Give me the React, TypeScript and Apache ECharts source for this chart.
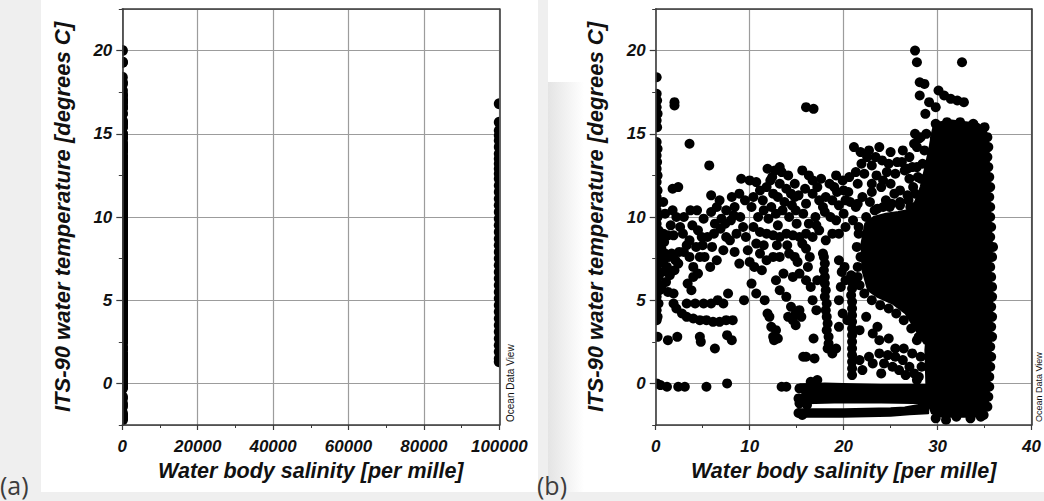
import React, { useEffect, useRef } from "react";
import * as echarts from "echarts";

// ---------- DATA (salinity [per mille], temperature [deg C]) ----------
const yTickValues = [0, 5, 10, 15, 20];
const yMinorTickValues = [-2.5, 2.5, 7.5, 12.5, 17.5, 22.5];

const freshColumn: [number, number][] = [
  [0.1, 18.4], [0.1, 17.4], [0.15, 17.0], [0.1, 16.6], [0.2, 16.2], [0.1, 15.8], [0.15, 15.4],
  [0.1, 14.5], [0.2, 14.1], [0.1, 13.7], [0.15, 13.3], [0.1, 12.9], [0.2, 12.5], [0.1, 12.1],
  [0.2, 11.6], [0.1, 11.2], [0.15, 10.8], [0.1, 10.4], [0.2, 10.0], [0.1, 9.6], [0.3, 9.2],
  [0.2, 8.8], [0.1, 8.4], [0.4, 8.0], [0.2, 7.6], [0.3, 7.2], [0.1, 6.8], [0.3, 6.4], [0.2, 6.0],
  [0.4, 5.6], [0.1, 5.2], [0.3, 4.8], [0.1, 4.4], [0.2, 4.0], [0.1, 3.8], [0.2, 2.8], [0.1, 0.0],
];

const lowSalinityCloud: [number, number][] = [
  [1.8, 11.7], [2.4, 11.8], [1.8, 10.4], [3.7, 10.4], [5.9, 11.3], [6.8, 11.0], [8.1, 11.2], [8.9, 11.4],
  [9.1, 12.3], [5.1, 9.9], [5.9, 10.3], [6.5, 10.6], [7.5, 10.4], [8.4, 10.6], [2.6, 9.4], [2.9, 9.0],
  [3.6, 8.6], [4.3, 8.2], [1.9, 8.9], [0.8, 9.0], [1.3, 8.9], [0.6, 8.1], [1.0, 7.8], [1.4, 7.6],
  [0.8, 7.3], [1.2, 7.0], [1.7, 7.8], [2.1, 7.4], [2.5, 7.9], [0.7, 6.7], [1.5, 6.5], [2.0, 6.8],
  [2.4, 7.2], [1.1, 6.1], [0.6, 5.8], [1.3, 5.5], [3.6, 7.6], [4.7, 7.6], [5.8, 7.0], [6.5, 7.4],
  [7.2, 8.0], [7.9, 8.6], [8.6, 9.0], [9.3, 9.4], [9.6, 8.8], [3.0, 7.9], [4.0, 7.0], [5.0, 8.3],
  [5.5, 8.8], [6.2, 9.0], [6.9, 9.3], [7.4, 9.6], [8.0, 9.8], [4.5, 9.2], [3.3, 8.3], [7.5, 8.8],
  [6.0, 8.2], [5.2, 7.6], [8.4, 7.9], [8.9, 7.2], [1.9, 5.4], [3.8, 5.6], [4.5, 6.6], [7.7, 5.4],
  [9.4, 5.0], [3.4, 6.0], [4.0, 6.4], [1.9, 4.8], [2.2, 4.5], [2.8, 4.2], [3.3, 4.0], [4.0, 3.9],
  [4.7, 3.8], [5.4, 3.8], [6.1, 3.7], [6.8, 3.7], [7.5, 3.8], [8.2, 3.8], [3.3, 4.8], [4.2, 4.8],
  [5.1, 4.8], [5.9, 4.8], [6.6, 5.0], [7.2, 4.8], [1.3, 2.6], [2.3, 2.8], [4.7, 2.8], [4.8, 2.5],
  [6.3, 2.1], [7.6, 2.9], [8.1, 2.6], [1.2, -0.2], [2.4, -0.2], [3.1, -0.2], [5.4, -0.2], [7.6, 0.0],
  [0.5, -0.1], [9.0, 10.0], [8.3, 10.1], [7.0, 9.9], [6.3, 9.6], [4.9, 8.8], [3.9, 9.5], [2.2, 10.0],
  [1.0, 10.2], [0.8, 10.9], [0.9, 8.5], [0.5, 7.5], [1.6, 9.5], [3.0, 10.0], [4.4, 10.4],
];

const midSalinityCloud: [number, number][] = [
  [10.0, 12.2], [10.7, 12.1], [11.9, 12.9], [12.7, 12.8], [13.4, 12.7], [14.1, 12.5], [15.6, 12.8],
  [11.1, 11.6], [11.8, 11.8], [12.5, 11.4], [13.2, 12.0], [13.9, 11.7], [14.8, 12.0], [14.4, 11.4],
  [10.4, 11.2], [11.4, 11.0], [12.3, 10.6], [12.8, 10.2], [13.5, 10.4], [14.2, 10.0], [14.9, 10.4],
  [15.7, 10.2], [16.0, 10.8], [16.7, 12.2], [17.6, 12.3], [18.5, 12.0], [19.2, 12.5], [19.9, 12.2],
  [20.6, 12.4], [21.3, 12.7], [21.1, 14.2], [21.8, 13.9], [22.5, 13.6], [23.4, 13.6], [24.1, 13.4],
  [24.8, 13.2], [25.7, 13.3], [26.8, 12.9], [27.5, 14.4], [28.0, 14.7], [16.7, 11.4], [17.4, 11.0],
  [18.1, 11.2], [18.8, 11.0], [19.5, 10.7], [20.2, 11.0], [21.3, 10.6], [10.4, 9.4], [11.1, 9.1],
  [11.8, 9.0], [12.5, 8.9], [13.2, 8.8], [13.9, 9.0], [14.6, 8.9], [15.3, 8.8], [16.0, 9.0],
  [16.7, 8.8], [17.4, 9.2], [18.1, 8.6], [18.8, 9.0], [10.7, 8.4], [9.8, 8.0], [11.1, 7.8],
  [11.8, 7.4], [12.5, 7.6], [13.2, 7.6], [14.2, 7.8], [15.1, 7.3], [16.0, 8.1], [10.2, 6.0],
  [10.7, 5.4], [11.6, 5.0], [11.9, 4.2], [12.3, 3.4], [12.5, 2.8], [12.6, 2.6], [13.2, 5.6],
  [13.9, 5.2], [14.4, 4.6], [14.9, 4.2], [14.1, 4.0], [14.9, 3.5], [15.5, 4.0], [15.3, 6.6],
  [16.0, 6.2], [16.5, 5.8], [16.2, 7.0], [16.7, 5.0], [17.1, 4.4], [16.8, 2.7], [15.7, 1.6],
  [16.0, 1.6], [16.9, 1.5], [18.8, 1.8], [19.5, 7.4], [20.1, 7.0], [20.2, 6.2], [19.7, 5.8],
  [19.5, 5.0], [19.9, 4.2], [20.4, 3.8], [19.5, 3.4], [19.2, 9.8], [19.5, 9.0], [20.2, 9.4],
  [21.0, 9.8], [12.0, 9.9], [13.0, 9.5], [15.0, 9.6], [17.0, 10.0], [18.0, 10.3], [20.0, 10.2],
  [17.8, 7.8], [13.6, 6.6], [12.8, 6.2], [14.6, 6.4], [11.3, 6.8], [17.2, 6.2], [19.8, 6.7],
  [13.4, -0.2], [13.9, -0.2], [16.5, 0.1], [17.2, 0.2], [9.5, 11.0], [10.2, 10.6], [10.9, 10.0],
  [11.5, 10.4], [12.2, 12.2], [13.0, 11.2], [13.7, 10.9], [14.5, 10.7], [15.2, 11.3], [15.9, 11.7],
  [16.3, 9.6], [17.1, 9.5], [17.8, 10.6], [18.6, 10.0], [19.3, 11.5], [20.0, 11.6], [20.7, 10.9],
  [10.0, 7.3], [10.5, 7.0], [11.5, 8.3], [12.9, 8.3], [14.0, 8.3], [14.8, 7.6], [15.6, 8.4],
  [16.4, 7.6], [13.2, 13.0], [12.4, 12.4], [14.8, 11.2], [16.3, 12.5], [17.2, 11.8], [19.0, 11.8],
  [20.5, 11.5], [21.9, 13.2], [23.0, 13.1], [24.6, 12.7], [22.7, 14.0], [23.8, 14.2], [12.1, 4.0],
  [12.8, 3.2], [13.0, 2.7], [14.6, 3.8], [15.3, 4.4],
];

const streak18: [number, number][] = [
  [17.9, 7.6], [18.0, 7.2], [17.9, 6.8], [18.0, 6.4], [18.0, 6.0], [18.1, 5.6], [18.0, 5.2], [18.2, 4.8],
  [18.1, 4.4], [18.2, 4.0], [18.3, 3.6], [18.2, 3.2], [18.4, 2.8], [18.4, 2.4], [18.3, 2.1],
];

const streak21: [number, number][] = [
  [20.8, 6.5], [20.9, 6.1], [20.9, 5.7], [20.8, 5.3], [20.9, 4.9], [20.9, 4.5], [20.9, 4.1], [20.9, 3.7],
  [20.9, 3.3], [20.9, 2.9], [20.9, 2.5], [20.9, 2.1], [20.9, 1.7], [20.9, 1.3], [20.9, 0.9], [20.9, 0.5],
];

const shelfCluster: [number, number][] = [
  [22.7, 1.6], [23.8, 1.8], [24.7, 1.7], [25.5, 1.6], [26.3, 1.4], [27.0, 1.0], [27.5, 0.6], [25.2, 1.0],
  [24.3, 1.2], [25.9, 0.8], [23.1, 1.2], [23.8, 2.6], [24.8, 2.7], [25.5, 2.1], [26.4, 2.1], [27.3, 1.8],
  [28.2, 1.6], [28.4, 3.0], [27.8, 2.6], [21.7, 3.2], [22.4, 4.0], [23.1, 3.0], [23.6, 3.4], [22.0, 0.8],
  [19.2, 2.1], [21.7, 1.4], [24.0, 0.6], [26.6, 0.5], [28.0, 0.4], [28.3, 1.0], [27.8, 0.2],
  [28.6, 3.6], [28.2, 4.2], [27.5, 4.6],
];

const upperCloud: [number, number][] = [
  [22.0, 11.2], [23.0, 11.5], [24.0, 11.8], [25.0, 12.0], [26.0, 11.6], [27.0, 12.3], [23.5, 12.5],
  [25.5, 12.6], [26.3, 14.0], [27.0, 13.6], [27.8, 13.0], [21.5, 10.8], [22.8, 10.9], [24.5, 11.0],
  [26.0, 10.9], [26.8, 11.3], [27.4, 11.8], [27.9, 12.4], [28.4, 13.2], [28.6, 14.0], [27.8, 14.2],
  [26.5, 12.8], [25.4, 11.4], [24.2, 12.2], [23.0, 12.0], [22.2, 12.6], [21.5, 12.0], [28.8, 15.0],
  [28.9, 12.0], [27.1, 10.6], [24.9, 10.6], [23.6, 10.5], [21.6, 9.0], [21.8, 7.6], [21.5, 6.4],
  [28.2, 14.8], [27.6, 15.0], [28.5, 11.0], [28.0, 10.6], [26.2, 13.3], [25.0, 13.9], [27.3, 13.0],
];

const extensionEdgeDots: [number, number][] = [
  [22.4, 10.0], [23.3, 10.4], [24.2, 10.6], [25.1, 10.8], [26.0, 10.7], [26.9, 11.0], [27.6, 11.4],
  [28.2, 12.3], [22.2, 5.4], [23.0, 5.0], [23.9, 4.7], [24.8, 4.5], [25.6, 4.2], [26.4, 3.8],
  [27.2, 3.3], [28.0, 2.8], [21.6, 9.4], [21.4, 8.2], [21.5, 7.0], [21.7, 5.9],
];

const warmOutliers: [number, number][] = [
  [27.6, 20.0], [27.8, 19.3], [32.6, 19.3], [28.1, 18.1], [28.6, 18.0], [28.1, 17.3], [29.1, 16.9],
  [28.7, 16.2], [30.1, 17.6], [30.7, 17.3], [31.4, 17.1], [32.1, 17.0], [32.8, 16.9], [29.8, 16.6],
  [16.0, 16.6], [16.8, 16.5], [2.0, 16.9], [2.0, 16.7], [3.6, 14.4], [5.7, 13.1],
];

const coreEdgeDots: [number, number][] = [
  [35.0, 15.4], [35.3, 14.8], [35.4, 14.2], [35.3, 13.6], [35.4, 13.0], [35.5, 12.4], [35.6, 11.8],
  [35.5, 11.2], [35.6, 10.6], [35.6, 10.0], [35.7, 9.4], [35.6, 8.8], [35.9, 8.2], [35.8, 7.6],
  [35.6, 7.0], [35.7, 6.4], [35.8, 5.8], [35.8, 5.2], [35.7, 4.6], [35.8, 4.0], [35.7, 3.4],
  [35.8, 2.8], [35.6, 2.2], [35.7, 1.6], [35.6, 1.0], [35.5, 0.4], [35.5, -0.2], [35.4, -0.8],
  [35.3, -1.4], [34.9, -1.9], [29.8, -2.1], [30.9, -2.2], [32.0, -2.0], [33.5, -2.1], [34.6, -2.0],
  [29.8, 15.6], [31.0, 15.7], [32.4, 15.7], [33.8, 15.6],
];

const bandEndDots: [number, number][] = [
  [15.3, -0.3], [15.2, -0.9], [15.3, -1.2], [16.1, -1.3], [15.2, -1.78], [15.6, -1.9],
];

const densePolygons: [number, number][][] = [
  [[29.3, 14.8], [29.6, 15.5], [30.3, 15.7], [31.5, 15.8], [33.0, 15.7], [34.3, 15.6], [35.1, 15.3],
   [35.4, 14.5], [35.5, 12.0], [35.6, 10.0], [35.8, 8.2], [35.6, 7.0], [35.8, 5.0], [35.7, 3.0],
   [35.6, 1.0], [35.4, -1.0], [35.0, -1.8], [34.0, -2.0], [32.0, -2.0], [30.5, -2.0], [29.4, -1.8],
   [29.0, -1.2], [28.8, 0.0], [28.7, 2.0], [29.0, 4.0], [29.0, 10.0], [29.1, 13.0]],
  [[22.3, 9.6], [23.2, 10.0], [24.5, 10.2], [25.8, 10.3], [26.8, 10.4], [27.6, 10.9], [28.2, 11.8],
   [28.7, 13.0], [29.3, 14.6], [29.5, 14.0], [29.5, 3.0], [28.6, 2.4], [27.7, 3.2], [26.6, 4.2],
   [25.2, 4.8], [23.6, 5.2], [22.6, 5.6], [22.0, 6.8], [21.9, 8.4]],
  [[15.4, -0.05], [18.0, 0.0], [21.0, -0.05], [24.0, -0.1], [27.0, -0.1], [29.0, -0.1], [29.0, -0.6],
   [24.0, -0.62], [19.0, -0.6], [15.6, -0.62]],
  [[15.4, -0.7], [19.0, -0.68], [24.0, -0.68], [29.0, -0.68], [29.0, -1.2], [24.0, -1.15], [19.0, -1.15],
   [16.0, -1.2], [15.4, -1.2]],
  [[15.2, -1.55], [20.0, -1.55], [25.0, -1.5], [26.5, -1.45], [28.0, -1.3], [29.0, -1.25], [29.0, -1.8],
   [27.0, -1.85], [25.0, -1.95], [20.0, -2.0], [15.2, -2.0]],
];

// salinity recorded as 99999 (missing-value flag) in panel (a)
const flaggedSalinity = 99999;
const flaggedTemps = [
  16.8, 15.7, 15.2, 14.9, 14.6, 14.2, 13.8, 13.5, 13.2, 12.9, 12.6, 12.3, 11.9, 11.5, 11.1, 10.7,
  10.3, 9.9, 9.5, 9.1, 8.7, 8.3, 7.9, 7.5, 7.1, 6.7, 6.3, 5.9, 5.5, 5.1, 4.7, 4.3, 3.9, 3.5, 3.1,
  2.7, 2.3, 1.9, 1.5, 1.3,
];

const panelLabels = ["(a)", "(b)"];
const xAxisName = "Water body salinity [per mille]";
const yAxisName = "ITS-90 water temperature [degrees C]";
const creditText = "Ocean Data View";

// ---------- CHART ----------
const FONT = "'Liberation Sans', Arial, sans-serif";
const boldItalic = { fontFamily: FONT, fontWeight: "bold" as const, fontStyle: "italic" as const, color: "#111" };
const AXIS_COLOR = "#3a3a3a";
const GRID_COLOR = "#9c9c9c";

export default function App() {
  const ref = useRef<HTMLDivElement>(null);

  useEffect(() => {
    if (!ref.current) return;
    const chart = echarts.init(ref.current, undefined, { renderer: "svg" });

    const bPoints = [
      ...freshColumn, ...lowSalinityCloud, ...midSalinityCloud, ...streak18, ...streak21,
      ...shelfCluster, ...upperCloud, ...extensionEdgeDots, ...warmOutliers, ...coreEdgeDots, ...bandEndDots,
    ];
    const aPoints = [...bPoints, ...flaggedTemps.map((t) => [flaggedSalinity, t] as [number, number])];

    const grids = [
      { left: 122.3, top: 9, width: 377, height: 416 },
      { left: 655.7, top: 9, width: 377.3, height: 416 },
    ];
    const xRanges = [
      { min: 0, max: 100000, interval: 20000 },
      { min: 0, max: 40, interval: 10 },
    ];

    const xAxes: any[] = [];
    const yAxes: any[] = [];
    grids.forEach((_, gi) => {
      const xr = xRanges[gi];
      xAxes.push({
        gridIndex: gi, type: "value", position: "bottom", ...xr, z: 1,
        axisLine: { show: false, onZero: false }, axisTick: { show: false }, axisLabel: { show: false },
        splitLine: { show: true, lineStyle: { color: GRID_COLOR, width: 1.2 } },
      });
      xAxes.push({
        gridIndex: gi, type: "value", position: "bottom", ...xr, z: 10,
        name: xAxisName, nameLocation: "middle", nameGap: 34,
        nameTextStyle: { ...boldItalic, fontSize: 21.5 },
        axisLine: { show: true, onZero: false, lineStyle: { color: AXIS_COLOR, width: 1.6 } },
        axisTick: { show: true, length: 5, lineStyle: { color: AXIS_COLOR, width: 1.2 } },
        minorTick: { show: true, splitNumber: 2, length: 3, lineStyle: { color: AXIS_COLOR, width: 1 } },
        axisLabel: { show: true, margin: 13, ...boldItalic, fontSize: 17, showMinLabel: true, showMaxLabel: true,
          formatter: (v: number) => String(v) },
        splitLine: { show: false },
      });
      xAxes.push({
        gridIndex: gi, type: "value", position: "top", ...xr, z: 10,
        axisLine: { show: true, onZero: false, lineStyle: { color: AXIS_COLOR, width: 1.6 } },
        axisTick: { show: false }, axisLabel: { show: false }, splitLine: { show: false },
      });

      const yr = { min: -2.5, max: 22.5 };
      yAxes.push({
        gridIndex: gi, type: "value", position: "left", ...yr, splitNumber: 5, z: 1,
        axisLine: { show: false, onZero: false }, axisTick: { show: false }, axisLabel: { show: false },
        splitLine: { show: true, lineStyle: { color: GRID_COLOR, width: 1.2 } },
      });
      yAxes.push({
        gridIndex: gi, type: "value", position: "left", ...yr, z: 10,
        name: yAxisName, nameLocation: "middle", nameGap: 49,
        nameTextStyle: { ...boldItalic, fontSize: 22 },
        axisLine: { show: true, onZero: false, lineStyle: { color: AXIS_COLOR, width: 1.6 } },
        axisTick: { show: true, length: 6, customValues: yTickValues, lineStyle: { color: AXIS_COLOR, width: 1.2 } },
        axisLabel: { show: true, margin: 10, ...boldItalic, fontSize: 17, customValues: yTickValues,
          formatter: (v: number) => String(v) },
        splitLine: { show: false },
      });
      yAxes.push({
        gridIndex: gi, type: "value", position: "left", ...yr, z: 10,
        axisLine: { show: false, onZero: false },
        axisTick: { show: true, length: 3.5, customValues: yMinorTickValues, lineStyle: { color: AXIS_COLOR, width: 1 } },
        axisLabel: { show: false }, splitLine: { show: false },
      });
      yAxes.push({
        gridIndex: gi, type: "value", position: "right", ...yr, z: 10,
        axisLine: { show: true, onZero: false, lineStyle: { color: AXIS_COLOR, width: 1.6 } },
        axisTick: { show: false }, axisLabel: { show: false }, splitLine: { show: false },
      });
    });

    const polySeries = (gi: number) => ({
      type: "custom",
      xAxisIndex: gi * 3, yAxisIndex: gi * 4, z: 2, silent: true,
      data: densePolygons.map((p) => p[0]),
      renderItem: (params: any, api: any) => {
        const poly = densePolygons[params.dataIndex];
        return {
          type: "polygon",
          shape: { points: poly.map((p) => api.coord(p)) },
          style: { fill: "#000", stroke: "#000", lineWidth: 2, lineJoin: "round" },
        };
      },
    });

    const scatterSeries = (gi: number, data: [number, number][], size: number) => ({
      type: "scatter",
      xAxisIndex: gi * 3, yAxisIndex: gi * 4, z: 2, silent: true,
      symbol: "circle", symbolSize: size,
      itemStyle: { color: "#000", opacity: 1 },
      data,
    });

    const white = "#ffffff";
    const graphic: any[] = [
      { type: "rect", z: -10, shape: { x: 0, y: 0, width: 1044, height: 501 }, style: { fill: "#efefef" } },
      { type: "rect", z: -9, shape: { x: 41, y: 0, width: 497, height: 492 }, style: { fill: white } },
      { type: "rect", z: -9, shape: { x: 548, y: 0, width: 496, height: 492 }, style: { fill: white } },
      { type: "rect", z: -8, shape: { x: 548, y: 82, width: 36, height: 410 },
        style: { fill: { type: "linear", x: 0, y: 0, x2: 1, y2: 0,
          colorStops: [{ offset: 0, color: "#e4e4e4" }, { offset: 1, color: "#ffffff" }] } } },
      // clip masks outside the plot areas (z above series, below axes)
      { type: "rect", z: 5, shape: { x: 108, y: 2, width: 14.3, height: 428 }, style: { fill: white } },
      { type: "rect", z: 5, shape: { x: 499.3, y: 2, width: 6, height: 423 }, style: { fill: white } },
      { type: "rect", z: 5, shape: { x: 641, y: 2, width: 14.7, height: 428 }, style: { fill: white } },
      { type: "text", z: 20, x: 0, y: 485,
        style: { text: panelLabels[0], font: "25px 'Open Sans', sans-serif", fill: "#3c3c3c",
          textAlign: "left", textVerticalAlign: "middle", verticalAlign: "middle" } },
      { type: "text", z: 20, x: 537, y: 485,
        style: { text: panelLabels[1], font: "25px 'Open Sans', sans-serif", fill: "#3c3c3c",
          textAlign: "left", textVerticalAlign: "middle", verticalAlign: "middle" } },
      { type: "text", z: 20, x: 510.5, y: 422, rotation: Math.PI / 2,
        style: { text: creditText, font: `10px ${FONT}`, fill: "#111",
          textAlign: "left", textVerticalAlign: "middle", verticalAlign: "middle" } },
      { type: "text", z: 20, x: 1038.8, y: 422, rotation: Math.PI / 2,
        style: { text: creditText, font: `9px ${FONT}`, fill: "#111",
          textAlign: "left", textVerticalAlign: "middle", verticalAlign: "middle" } },
    ];

    chart.setOption({
      animation: false,
      backgroundColor: "#efefef",
      grid: grids.map((g) => ({ ...g, show: false, containLabel: false })),
      xAxis: xAxes,
      yAxis: yAxes,
      graphic,
      series: [
        scatterSeries(0, aPoints, 11),
        polySeries(0),
        scatterSeries(1, bPoints, 10),
        polySeries(1),
      ],
    });

    return () => chart.dispose();
  }, []);

  return (
    <div
      ref={ref}
      style={{ position: "fixed", left: 0, top: 0, width: 1044, height: 501 }}
    />
  );
}
